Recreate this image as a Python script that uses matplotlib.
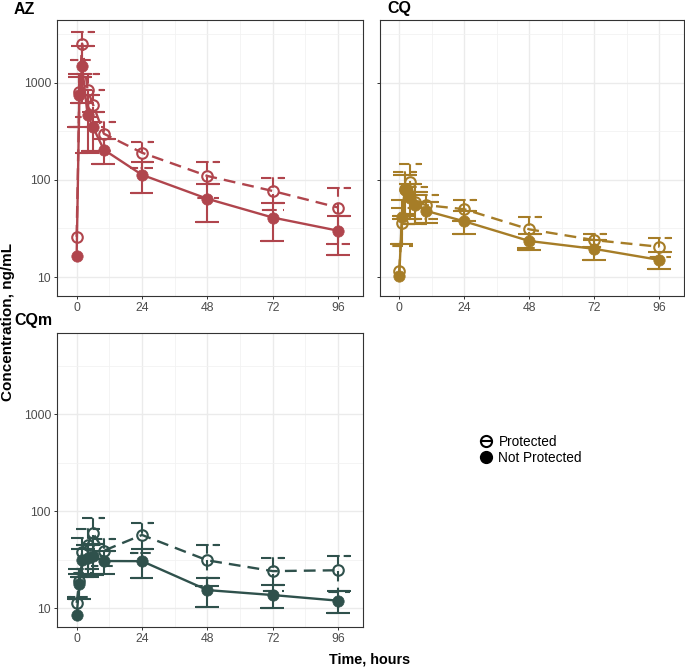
import matplotlib
matplotlib.use("Agg")
import matplotlib.pyplot as plt
import numpy as np
from matplotlib.lines import Line2D
from matplotlib.ticker import FixedLocator, NullFormatter

plt.rcParams['font.family'] = ['Liberation Sans', 'DejaVu Sans']

# ---------------- data ----------------
times = [0, 1, 2, 4, 6, 10, 24, 48, 72, 96]
x_ticks = [0, 24, 48, 72, 96]
y_ticks = [10, 100, 1000]
y_tick_labels = ['10', '100', '1000']
groups = ['Protected', 'Not Protected']

az_prot_mean = [26, 800, 2550, 850, 600, 300, 191, 110, 77, 52]
az_prot_sd = [0, 450, 820, 400, 250, 100, 57, 44, 28, 30]
az_np_mean = [16.5, 750, 1500, 470, 350, 205, 113, 64, 41, 30]
az_np_sd = [0, 400, 880, 280, 150, 60, 39, 27, 17.5, 13]

cq_prot_mean = [11.5, 36, 80, 95, 60, 55, 50, 31, 24, 20.5]
cq_prot_sd = [0, 15, 40, 50, 25, 15, 12, 11, 3.5, 4.5]
cq_np_mean = [10.3, 42, 78, 65, 55, 48, 37.5, 23.5, 19.5, 15]
cq_np_sd = [0, 20, 35, 25, 20, 12, 10, 4.5, 4.5, 3]

cqm_prot_mean = [11.3, 19, 38, 45, 59, 39, 56.6, 31, 24, 24.5]
cqm_prot_sd = [0, 6, 15, 20, 25, 12, 19.5, 14, 9, 10]
cqm_np_mean = [8.4, 17.5, 31, 33, 34, 30.5, 30.4, 15.3, 13.6, 11.9]
cqm_np_sd = [0, 5, 10, 12, 12, 8, 10, 5, 3.5, 3]

colors = {'AZ': '#B0454D', 'CQ': '#A67D27', 'CQm': '#2F514C'}

# ---------------- layout ----------------
W, H = 685, 668
fig = plt.figure(figsize=(W / 100, H / 100), dpi=100)

def add_ax(l, t, r, b):
    return fig.add_axes([l / W, 1 - b / H, (r - l) / W, (b - t) / H])

ax_az = add_ax(57.3, 20, 362.7, 296)
ax_cq = add_ax(380, 20, 683.7, 296)
ax_cqm = add_ax(57.3, 333, 362.7, 627)

XLIM = (-7.1, 105)
YLIM_TOP = (6.37, 4460)
YLIM_BOT = (6.37, 6840)
CAP_W = 4.2
LW = 1.7
DASH = (0, (5, 3))


def errbar(ax, t, m, s, color, ls):
    for ti, mi, si in zip(t, m, s):
        if si <= 0:
            continue
        hi = mi + si
        lo = max(mi - si, 1e-3)
        ax.plot([ti - CAP_W, ti + CAP_W, ti, ti, ti - CAP_W, ti + CAP_W],
                [hi, hi, hi, lo, lo, lo], color=color, lw=1.5, ls=ls,
                zorder=3, solid_capstyle='butt', dash_capstyle='butt')


def panel(ax, key, pm, psd, nm, nsd, ylim, ylabels=True):
    c = colors[key]
    ax.set_yscale('log')
    ax.set_xlim(*XLIM)
    ax.set_ylim(*ylim)
    ax.plot(times, pm, color=c, lw=LW, ls=DASH, zorder=2)
    ax.plot(times, nm, color=c, lw=LW, ls='-', zorder=2)
    errbar(ax, times, pm, psd, c, DASH)
    errbar(ax, times, nm, nsd, c, '-')
    ax.plot(times, pm, ls='none', marker='o', ms=7.6, mfc='none', mec=c,
            mew=1.5, zorder=4)
    ax.plot(times, nm, ls='none', marker='o', ms=8.2, mfc=c, mec=c,
            mew=0.5, zorder=4)
    ax.set_xticks(x_ticks)
    ax.set_xticklabels([str(v) for v in x_ticks])
    ax.xaxis.set_minor_locator(FixedLocator([12, 36, 60, 84]))
    ax.yaxis.set_major_locator(FixedLocator(y_ticks))
    ax.yaxis.set_minor_locator(FixedLocator([10 ** 1.5, 10 ** 2.5, 10 ** 3.5]))
    ax.yaxis.set_minor_formatter(NullFormatter())
    if ylabels:
        ax.set_yticklabels(y_tick_labels)
    else:
        ax.set_yticklabels([])
        ax.tick_params(axis='y', which='major', length=0)
    ax.grid(which='major', color='#EBEBEB', lw=1.0, zorder=0)
    ax.grid(which='minor', color='#F2F2F2', lw=0.6, zorder=0)
    ax.set_axisbelow(True)
    ax.tick_params(which='major', length=2.5, width=0.7, color='#333333',
                   labelsize=8.8, labelcolor='#4D4D4D', pad=2)
    ax.tick_params(which='minor', length=0)
    for sp in ax.spines.values():
        sp.set_color('#333333')
        sp.set_linewidth(0.8)


panel(ax_az, 'AZ', az_prot_mean, az_prot_sd, az_np_mean, az_np_sd, YLIM_TOP)
panel(ax_cq, 'CQ', cq_prot_mean, cq_prot_sd, cq_np_mean, cq_np_sd, YLIM_TOP, ylabels=False)
panel(ax_cqm, 'CQm', cqm_prot_mean, cqm_prot_sd, cqm_np_mean, cqm_np_sd, YLIM_BOT)

fig.text(14 / W, 1 - 9 / H, 'AZ', fontsize=11.5, fontweight='bold', ha='left', va='center')
fig.text(387 / W, 1 - 9 / H, 'CQ', fontsize=11.5, fontweight='bold', ha='left', va='center')
fig.text(14 / W, 1 - 321 / H, 'CQm', fontsize=11.5, fontweight='bold', ha='left', va='center')

fig.text(8 / W, 1 - 322 / H, 'Concentration, ng/mL', fontsize=11, fontweight='bold',
         rotation=90, ha='center', va='center')
fig.text(370 / W, 1 - 660 / H, 'Time, hours', fontsize=10.4, fontweight='bold',
         ha='center', va='center')

handles = [Line2D([], [], color='black', lw=1.5, marker='o', ms=8, mfc='none', mec='black', mew=1.5),
           Line2D([], [], color='black', lw=1.5, marker='o', ms=8.5, mfc='black', mec='black')]
fig.legend(handles, groups, loc='center left', bbox_to_anchor=(474 / W, 1 - 450 / H),
           frameon=False, fontsize=9.8, handlelength=0.7, handletextpad=0.6,
           labelspacing=0.15, borderpad=0)

fig.savefig('out.png', dpi=100)
